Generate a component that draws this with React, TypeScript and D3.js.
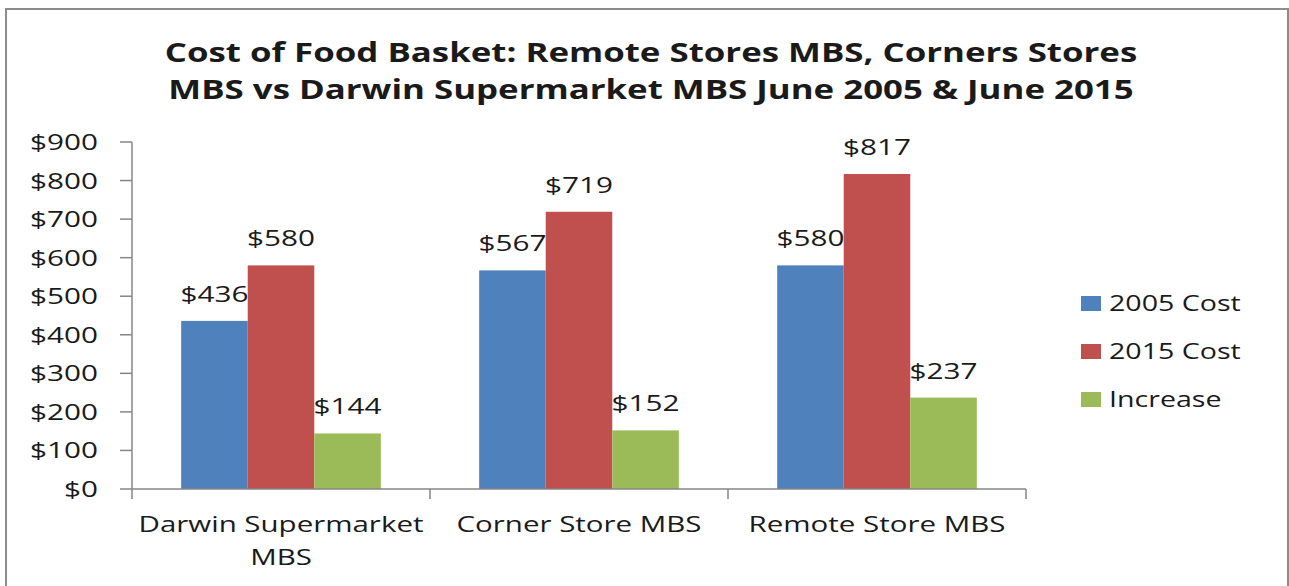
import React from 'react';
import * as d3 from 'd3';

const categories = ['Darwin Supermarket MBS', 'Corner Store MBS', 'Remote Store MBS'];
const categoryLines = [['Darwin Supermarket', 'MBS'], ['Corner Store MBS'], ['Remote Store MBS']];
const seriesNames = ['2005 Cost', '2015 Cost', 'Increase'];
const cost2005 = [436, 567, 580];
const cost2015 = [580, 719, 817];
const increase = [144, 152, 237];
const yTicks = [0, 100, 200, 300, 400, 500, 600, 700, 800, 900];
const titleLines = [
  'Cost of Food Basket: Remote Stores MBS, Corners Stores',
  'MBS vs Darwin Supermarket MBS June 2005 & June 2015'
];

const colors = ['#4F81BD', '#C0504D', '#9BBB59'];
const font = '"Open Sans", sans-serif';
const W = 1289;
const H = 586;

// stretched text helper (the reference is horizontally squashed out)
const T = ({ x, y, sx, size, anchor, weight, children }: any) => (
  <text
    transform={`translate(${x},${y}) scale(${sx},1)`}
    fontSize={size}
    fontFamily={font}
    fontWeight={weight || 'normal'}
    textAnchor={anchor || 'start'}
    fill="#1a1a1a"
  >
    {children}
  </text>
);

export default function App() {
  const series = [cost2005, cost2015, increase];
  const plot = { left: 132, right: 1026, top: 142, bottom: 489 };

  const x0 = d3.scaleBand<string>()
    .domain(categories)
    .range([plot.left, plot.right])
    .paddingInner(0.33)
    .paddingOuter(0.165);
  const x1 = d3.scaleBand<string>()
    .domain(seriesNames)
    .range([0, x0.bandwidth()]);
  const y = d3.scaleLinear().domain([0, 900]).range([plot.bottom, plot.top]);

  const step = x0.step();
  const catTicks = d3.range(categories.length + 1).map(i => plot.left + i * step);

  return (
    <svg width={W} height={H} style={{ position: 'absolute', left: 0, top: 0 }}>
      <rect x={0} y={0} width={W} height={H} fill="#fff" />
      {/* chart border */}
      <rect x={6} y={9} width={1282} height={620} fill="none" stroke="#8c8c8c" strokeWidth={2} />

      {/* title */}
      {titleLines.map((t, i) => (
        <T key={i} x={651} y={62 + i * 37} sx={1.29} size={27} weight="bold" anchor="middle">{t}</T>
      ))}

      {/* y axis */}
      <line x1={plot.left} x2={plot.left} y1={y(900)} y2={y(0)} stroke="#868686" strokeWidth={1.5} />
      {yTicks.map(t => (
        <g key={t}>
          <line x1={plot.left - 12} x2={plot.left} y1={y(t)} y2={y(t)} stroke="#868686" strokeWidth={1.5} />
          <T x={98} y={y(t) + 8} sx={1.35} size={22} anchor="end">{'$' + t}</T>
        </g>
      ))}

      {/* bars */}
      {categories.map((c, ci) => (
        <g key={c}>
          {series.map((s, si) => {
            const bx = (x0(c) as number) + (x1(seriesNames[si]) as number);
            return (
              <g key={si}>
                <rect x={bx} y={y(s[ci])} width={x1.bandwidth()} height={y(0) - y(s[ci])} fill={colors[si]} />
                <T x={bx + x1.bandwidth() / 2} y={y(s[ci]) - 19} sx={1.35} size={22} anchor="middle">
                  {'$' + s[ci]}
                </T>
              </g>
            );
          })}
        </g>
      ))}

      {/* x axis */}
      <line x1={plot.left} x2={plot.right} y1={y(0)} y2={y(0)} stroke="#868686" strokeWidth={1.5} />
      {catTicks.map((t, i) => (
        <line key={i} x1={t} x2={t} y1={y(0)} y2={y(0) + 10} stroke="#868686" strokeWidth={1.5} />
      ))}
      {categories.map((c, ci) => (
        <g key={c}>
          {categoryLines[ci].map((ln, li) => (
            <T key={li} x={(x0(c) as number) + x0.bandwidth() / 2} y={532 + li * 33} sx={1.34} size={22} anchor="middle">
              {ln}
            </T>
          ))}
        </g>
      ))}

      {/* legend */}
      {seriesNames.map((n, i) => (
        <g key={n}>
          <rect x={1081} y={296 + i * 48} width={20} height={15} fill={colors[i]} />
          <T x={1109} y={311 + i * 48} sx={1.3} size={22}>{n}</T>
        </g>
      ))}
    </svg>
  );
}
